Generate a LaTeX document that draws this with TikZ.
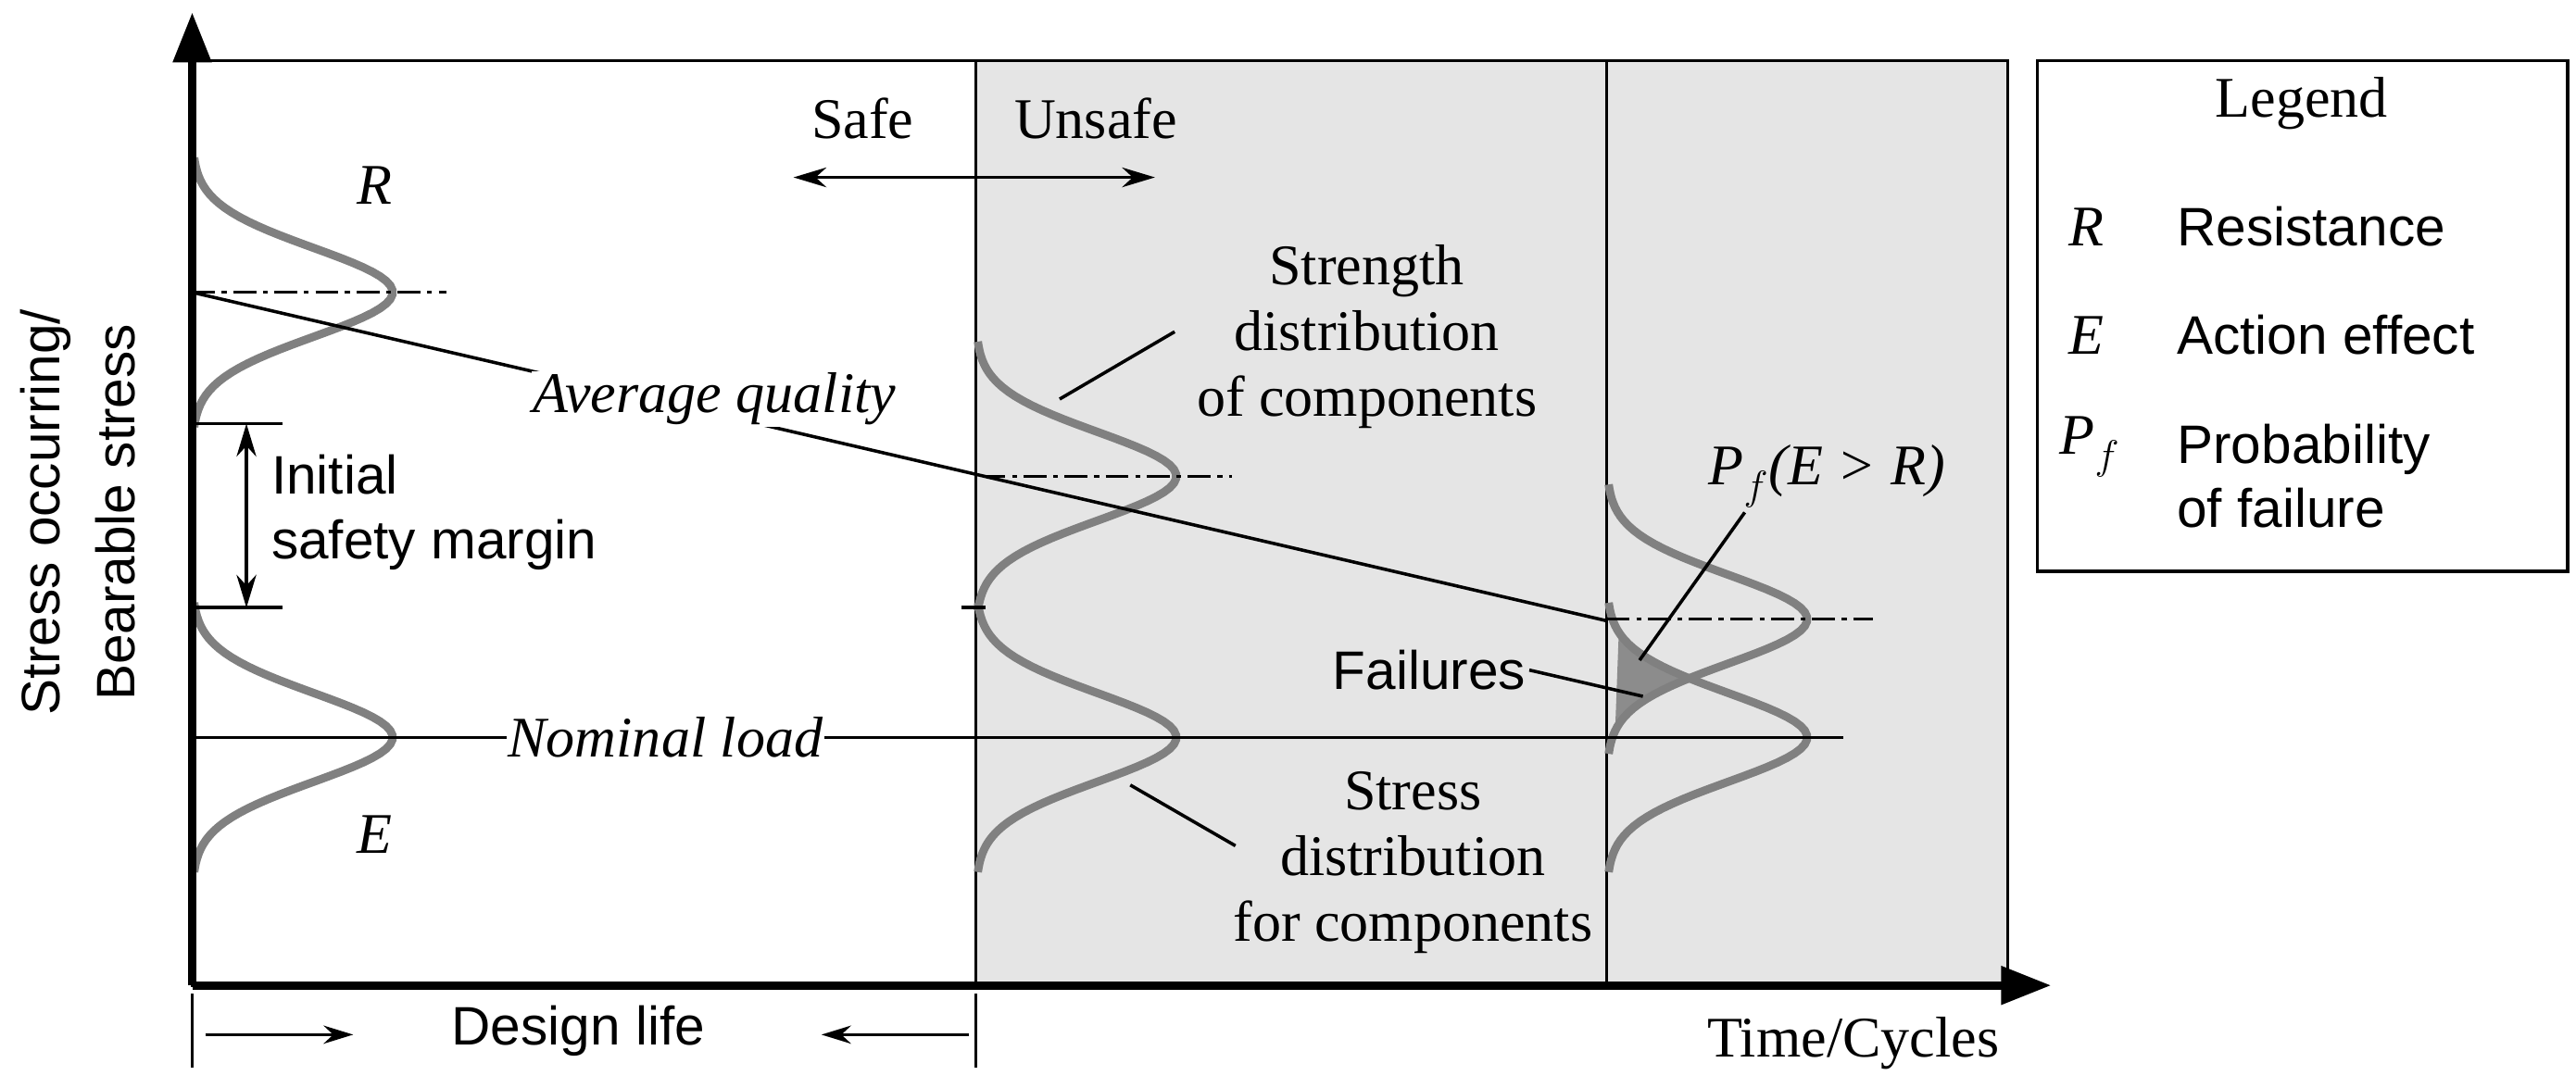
\documentclass[tikz,border=0pt]{standalone}
\usepackage{fontspec}
\setmainfont{Liberation Serif}
\newfontfamily\sansf{Liberation Sans}
\usetikzlibrary{arrows.meta}
\begin{document}
\begin{tikzpicture}[x=1pt,y=-1pt,
  every node/.style={font=\fontsize{35}{40}\selectfont, inner sep=2pt},
  sn/.style={font=\sansf\fontsize{33}{39}\selectfont},
  it/.style={font=\itshape\fontsize{35}{40}\selectfont},
  bell/.style={line width=5pt, color=black!50},
  thin/.style={line width=2pt},
  dd/.style={line width=2pt, dash pattern=on 14pt off 4pt on 3pt off 4pt},
  arr/.style={line width=2pt, -{Stealth[length=18pt,width=11pt]}},
  darr/.style={line width=2pt, {Stealth[length=20pt,width=12pt]}-{Stealth[length=20pt,width=12pt]}}]
\useasboundingbox (0,0) rectangle (1568,662);
\fill[black!10] (594,37) rectangle (1222,600);
\draw[thin] (117,37) rectangle (1222,600);
\draw[thin] (594,37) -- (594,600);
\draw[thin] (978,37) -- (978,600);
\draw[thin] (1240,37) rectangle (1563,348);
% failure region
\fill[black!45] plot[domain=385:445,samples=40,variable=\y] ({978+min(122*exp(-((\y-377)/27)^2/2),122*exp(-((\y-449)/27)^2/2))},\y) -- cycle;
% bells
\foreach \bx/\mu in {117/178,117/449,594/290,594/449,978/377,978/449}{
  \draw[bell] plot[domain=\mu-82:\mu+82,samples=60,variable=\y] ({\bx+122*exp(-((\y-\mu)/27)^2/2)},\y);
}
% axes
\draw[line width=5pt] (117,600) -- (1225,600);
\fill (1248,600) -- (1218,588) -- (1218,612) -- cycle;
\draw[line width=5pt] (117,600) -- (117,30);
\fill (117,8) -- (105,38) -- (129,38) -- cycle;
% lines
\coordinate (a1) at (117,178); \coordinate (a2) at (978,378);
\draw[thin] (a1) -- (a2);
\node[fill=white,inner sep=1pt,it] (avg) at (435,243) {Average quality};
\draw[dd] (117,178) -- (272,178);
\draw[dd] (598,290) -- (750,290);
\draw[dd] (978,377) -- (1140,377);
\draw[thin] (585,370) -- (600,370);
\coordinate (n1) at (117,449); \coordinate (n2) at (1122,449);
\draw[thin] (n1) -- (n2);
\node[fill=white,inner sep=1pt,it] (nom) at (405,449) {Nominal load};
% safety margin
\draw[thin] (117,258) -- (172,258); \draw[thin] (117,370) -- (172,370);
\coordinate (s1) at (150,258); \coordinate (s2) at (150,370);
\draw[darr] (s1) -- (s2);
\node[sn,align=left,anchor=west] (ism) at (163,312) {Initial\\safety margin};
% safe/unsafe
\coordinate (u1) at (483,108); \coordinate (u2) at (703,108);
\draw[darr] (u1) -- (u2);
\node (safe) at (525,72) {Safe};
\node (unsafe) at (667,72) {Unsafe};
% labels
\node[it] (R) at (228,113) {R};
\node[it] (E) at (228,508) {E};
\node[align=center] (str) at (832,205) {Strength\\distribution\\of components};
\draw[thin] (645,243) -- (715,202);
\node[align=center] (stc) at (860,525) {Stress\\distribution\\for components};
\draw[thin] (688,478) -- (752,515);
\node[it] (pf) at (1112,290) {P$_f$(E > R)};
\draw[thin] (1062,312) -- (998,402);
\node[sn] (fail) at (870,408) {Failures};
\draw[thin] (fail.east) -- (1000,424);
% design life
\draw[thin] (117,605) -- (117,650); \draw[thin] (594,605) -- (594,650);
\coordinate (d0) at (125,630); \coordinate (d1) at (215,630);
\coordinate (d2) at (590,630); \coordinate (d3) at (500,630);
\draw[arr] (d0) -- (d1); \draw[arr] (d2) -- (d3);
\node[sn] (dl) at (352,628) {Design life};
\node (tc) at (1128,635) {Time/Cycles};
% y label
\node[sn,rotate=90] (yl1) at (28,312) {Stress occurring/};
\node[sn,rotate=90] (yl2) at (70,312) {Bearable stress};
% legend
\node (lg) at (1401,63) {Legend};
\node[it] (lr) at (1270,138) {R};
\node[sn,anchor=west] (lrt) at (1323,138) {Resistance};
\node[it] (le) at (1270,204) {E};
\node[sn,anchor=west] (let) at (1323,204) {Action effect};
\node[it] (lp) at (1272,272) {P$_f$};
\node[sn,anchor=west,align=left] (lpt) at (1323,290) {Probability\\of failure};
\end{tikzpicture}
\end{document}
